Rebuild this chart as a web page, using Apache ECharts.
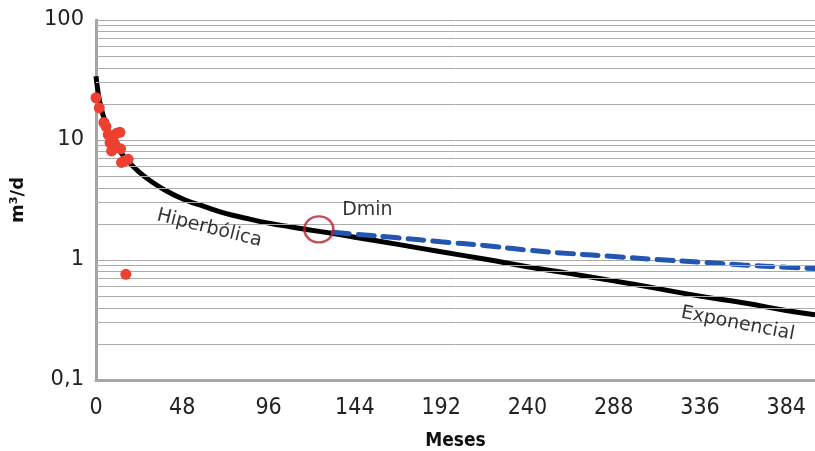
<!DOCTYPE html>
<html>
<head>
<meta charset="utf-8">
<script src="https://cdn.jsdelivr.net/npm/echarts@6/dist/echarts.min.js"></script>
<style>
html,body{margin:0;padding:0;background:#fff;}
#chart{width:815px;height:451px;}
</style>
</head>
<body>
<div id="chart"></div>
<script>
// Months (x) and rate values (m3/d)
var hyperT = [0, 1, 2, 4, 6, 8, 10, 14, 18, 24, 30, 40, 50, 60, 72, 84, 96, 108, 120, 132, 144, 168, 192, 216, 240, 264, 288, 312, 336, 360, 384, 400];
var hyperQ = [34, 26, 21, 16, 13, 11, 9.5, 7.8, 6.6, 5.4, 4.6, 3.7, 3.15, 2.8, 2.45, 2.22, 2.03, 1.89, 1.77, 1.66, 1.55, 1.35, 1.17, 1.02, 0.88, 0.77, 0.67, 0.58, 0.50, 0.44, 0.38, 0.35];
var dminT = [132, 144, 168, 192, 216, 240, 264, 288, 312, 336, 360, 384, 400];
var dminQ = [1.70, 1.64, 1.53, 1.42, 1.32, 1.21, 1.13, 1.07, 1.01, 0.96, 0.91, 0.87, 0.85];
var obsT = [0, 1.8, 4.4, 5.5, 6.8, 9.6, 11.5, 13.3, 7.8, 10.5, 8.7, 13.7, 16, 17.9, 14.2, 16.6];
var obsQ = [22.5, 18.5, 14, 13, 11.1, 10.4, 11.4, 11.6, 9.5, 9.2, 8.1, 8.45, 6.7, 6.9, 6.5, 0.76];
var minorGrid = [0.2, 0.3, 0.4, 0.5, 0.6, 0.7, 0.8, 0.9, 2, 3, 4, 5, 6, 7, 8, 9, 20, 30, 40, 50, 60, 70, 80, 90];
var xTicks = [0, 48, 96, 144, 192, 240, 288, 336, 384];
var dminPoint = [124, 1.8];
var labels = [
  {name: 'Hiperbólica', t: 63, q: 1.84, rot: -14},
  {name: 'Exponencial', t: 357, q: 0.295, rot: -11},
  {name: 'Dmin', t: 151, q: 2.62, rot: 0}
];

function zip(a, b) { return a.map(function (v, i) { return [v, b[i]]; }); }

var chart = echarts.init(document.getElementById('chart'), null, {renderer: 'canvas'});
var gridColor = '#ababab';
var narrow = 'DejaVu Sans Condensed, Liberation Sans Narrow, DejaVu Sans, sans-serif';
var option = {
  animation: false,
  grid: {left: 96, right: 0, top: 20, bottom: 71, containLabel: false, outerBoundsMode: 'none'},
  xAxis: {
    type: 'value', min: 0, max: 400, interval: 48,
    name: 'Meses', nameLocation: 'middle', nameGap: 52,
    nameTextStyle: {fontFamily: narrow, fontWeight: 'bold', fontSize: 19, color: '#111'},
    axisLine: {show: true, lineStyle: {color: '#a6a6a6', width: 3}},
    axisTick: {show: false},
    splitLine: {show: false},
    axisLabel: {
      showMaxLabel: false, margin: 17,
      fontFamily: narrow, fontSize: 23, color: '#222',
      formatter: function (v) { return xTicks.indexOf(v) >= 0 ? String(v) : ''; }
    }
  },
  yAxis: {
    type: 'log', logBase: 10, min: 0.1, max: 100,
    name: 'm³/d', nameLocation: 'middle', nameGap: 69, nameRotate: 90,
    nameTextStyle: {fontFamily: 'DejaVu Sans, sans-serif', fontWeight: 'bold', fontSize: 18, color: '#111'},
    axisLine: {show: true, lineStyle: {color: '#a6a6a6', width: 3}},
    axisTick: {show: false},
    splitLine: {show: true, lineStyle: {color: gridColor, width: 1}},
    axisLabel: {
      margin: 12, fontFamily: 'DejaVu Sans, sans-serif', fontSize: 21, color: '#222',
      formatter: function (v) { return String(v).replace('.', ','); }
    }
  },
  series: [
    {
      type: 'line', data: [], silent: true,
      markLine: {
        silent: true, symbol: ['none', 'none'], animation: false,
        label: {show: false},
        lineStyle: {color: gridColor, width: 1, type: 'solid'},
        data: minorGrid.map(function (v) { return {yAxis: v}; })
      }
    },
    {
      type: 'line', data: zip(hyperT, hyperQ), smooth: true, showSymbol: false,
      lineStyle: {color: '#000', width: 5}, z: 3
    },
    {
      type: 'line', data: zip(dminT, dminQ), smooth: true, showSymbol: false,
      lineStyle: {color: '#2356b0', width: 5, type: [16, 9], cap: 'round'}, z: 4
    },
    {
      type: 'scatter', data: zip(obsT, obsQ), symbolSize: 11,
      itemStyle: {color: '#ee4030', opacity: 1}, z: 5
    },
    {
      type: 'scatter', data: [dminPoint], symbol: 'circle', symbolSize: [29, 26],
      itemStyle: {color: 'rgba(0,0,0,0)', borderColor: '#b8202c', borderWidth: 2.5}, z: 6
    },
    {
      type: 'scatter', symbolSize: 0, z: 7,
      data: labels.map(function (l) {
        return {value: [l.t, l.q], label: {show: true, position: 'inside', formatter: l.name, rotate: l.rot}};
      }),
      label: {fontFamily: 'DejaVu Sans, sans-serif', fontSize: 19, color: '#000'}
    }
  ]
};
chart.setOption(option);
</script>
</body>
</html>
